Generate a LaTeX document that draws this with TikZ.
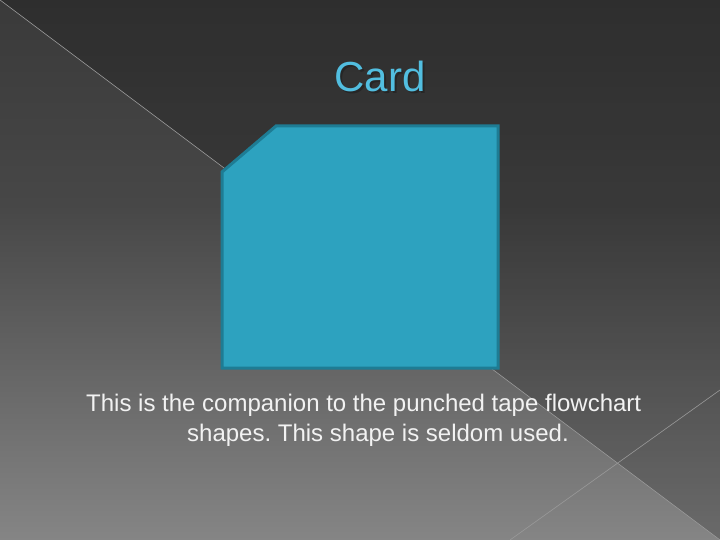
\documentclass[tikz,border=0pt]{standalone}
\usepackage{fontspec}
\setmainfont{Liberation Sans}
\frenchspacing
\definecolor{bgtop}{HTML}{3A3A3A}
\definecolor{bgmid}{HTML}{474747}
\definecolor{bgbot}{HTML}{858585}
\definecolor{cardfill}{HTML}{2DA2BF}
\definecolor{cardedge}{HTML}{1E7C94}
\definecolor{titleblue}{HTML}{52BEE0}
\pgfdeclareverticalshading{slidebg}{100bp}{color(0bp)=(bgbot); color(25bp)=(bgbot); color(56bp)=(bgmid); color(75bp)=(bgtop); color(100bp)=(bgtop)}
\newcommand{\shadowtext}[1]{\makebox[0pt][l]{\hspace{2pt}\raisebox{-2pt}{\color{black!85}#1}}#1}
\begin{document}
\begin{tikzpicture}[x=1pt, y=-1pt,
	rule/.style={draw=white!60!black, line width=0.6pt},
	title/.style={font=\fontsize{42}{48}\selectfont, text=titleblue, inner sep=0pt, anchor=base},
	body/.style={font=\fontsize{24}{30}\selectfont, text=white!95!black, inner sep=0pt, anchor=base west}]
	\useasboundingbox (0,0) rectangle (720,540);
	% background
	\shade[shading=slidebg] (0,0) rectangle (720,540);
	\fill[black, opacity=0.2] (0,0) -- (720,0) -- (720,540) -- cycle;
	\coordinate (tl) at (0,0);
	\coordinate (br) at (720,540);
	\coordinate (bm) at (510,540);
	\coordinate (rm) at (720,390);
	\draw[rule] (tl) -- (br);
	\draw[rule] (bm) -- (rm);
	% title
	\node[title] (head) at (380,92) {\shadowtext{Card}};
	% card shape
	\coordinate (c1) at (276,126);
	\coordinate (c2) at (498,126);
	\coordinate (c3) at (498,368);
	\coordinate (c4) at (222,368);
	\coordinate (c5) at (222,172);
	\draw[fill=cardfill, draw=cardedge, line width=3pt] (c1) -- (c2) -- (c3) -- (c4) -- (c5) -- cycle;
	% text
	\node[body] (line1) at (86,411) {This is the companion to the punched tape flowchart};
	\node[body] (line2) at (187,441) {shapes. This shape is seldom used.};
\end{tikzpicture}
\end{document}
